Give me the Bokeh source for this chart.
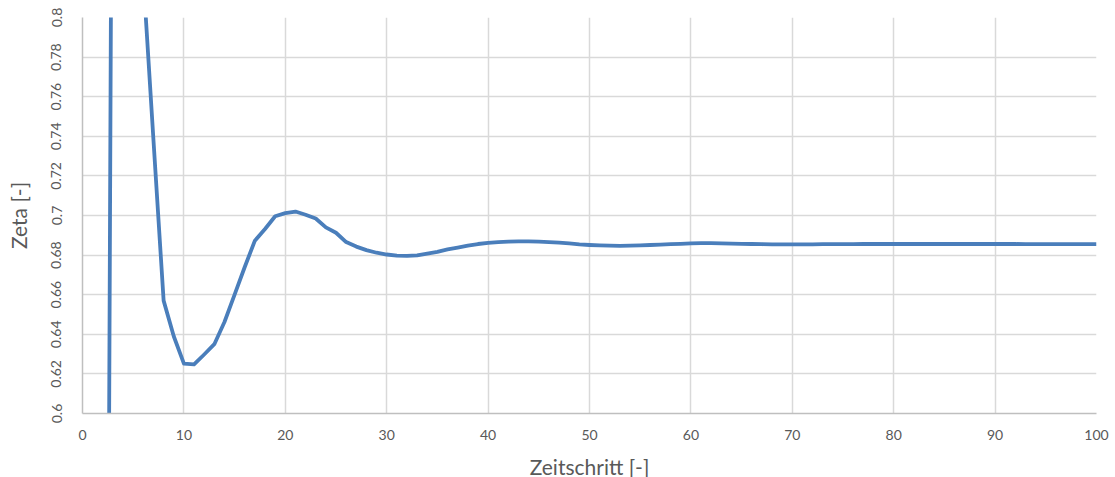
from bokeh.plotting import figure
from bokeh.models import Range1d, FixedTicker, CustomJSTickFormatter
from bokeh.embed import file_html
from bokeh.resources import INLINE

steps = list(range(2, 101))
zeta = [
    -0.143, 1.037, 1.12, 0.97, 0.82, 0.738, 0.657, 0.639, 0.6252, 0.6248,   # 2-11
    0.6298, 0.635, 0.6462, 0.660, 0.674, 0.6873, 0.6932, 0.6996, 0.7012, 0.702,  # 12-21
    0.7004, 0.6985, 0.694, 0.6913, 0.6866, 0.6843, 0.6825, 0.6812, 0.6803, 0.6797,  # 22-31
    0.6796, 0.6799, 0.6808, 0.6816, 0.6829, 0.6838, 0.6848, 0.6856, 0.6862, 0.6866,  # 32-41
    0.6868, 0.6869, 0.6869, 0.6868, 0.6866, 0.6863, 0.6859, 0.6854, 0.6851, 0.6849,  # 42-51
    0.6848, 0.6847, 0.6848, 0.6849, 0.6851, 0.6853, 0.6855, 0.6857, 0.6859, 0.6860,  # 52-61
    0.6860, 0.6859, 0.6858, 0.6857, 0.6856, 0.6855, 0.6854, 0.6854, 0.6854, 0.6854,  # 62-71
    0.6854, 0.6855, 0.6855, 0.6855, 0.6855, 0.6856, 0.6856, 0.6856, 0.6856, 0.6856,  # 72-81
    0.6856, 0.6856, 0.6856, 0.6856, 0.6856, 0.6856, 0.6856, 0.6856, 0.6856, 0.6856,  # 82-91
    0.6856, 0.6855, 0.6855, 0.6855, 0.6855, 0.6855, 0.6855, 0.6855, 0.6855,  # 92-100
]
x_ticks = list(range(0, 101, 10))
y_ticks = [0.6, 0.62, 0.64, 0.66, 0.68, 0.7, 0.72, 0.74, 0.76, 0.78, 0.8]

FONT = "Lato"
TXT = "#595959"

p = figure(frame_width=1014, frame_height=396, output_backend="svg", toolbar_location=None,
           x_range=Range1d(0, 100), y_range=Range1d(0.6, 0.8),
           min_border_left=82, min_border_top=17, min_border_right=15, min_border_bottom=55)
p.outline_line_color = None
p.background_fill_color = "white"
p.border_fill_color = "white"

p.line(steps, zeta, line_color="#4a7ebb", line_width=3.8, line_join="round")

for ax in (p.xaxis[0], p.yaxis[0]):
    ax.major_tick_line_color = None
    ax.minor_tick_line_color = None
    ax.axis_line_color = "#bfbfbf"
    ax.axis_line_width = 1.5
    ax.major_label_text_font = FONT
    ax.major_label_text_color = TXT
    ax.major_label_text_font_size = "14px"
    ax.axis_label_text_font = FONT
    ax.axis_label_text_color = TXT
    ax.axis_label_text_font_size = "21px"
    ax.axis_label_text_font_style = "normal"

p.xaxis.ticker = FixedTicker(ticks=x_ticks)
p.yaxis.ticker = FixedTicker(ticks=y_ticks)
p.yaxis.formatter = CustomJSTickFormatter(code="return String(Math.round(tick*100)/100);")
p.yaxis.major_label_orientation = "vertical"
p.xaxis.axis_label = "Zeitschritt [-]"
p.yaxis.axis_label = "Zeta [-]"
p.xaxis.major_label_standoff = 10
p.xaxis.axis_label_standoff = 11
p.yaxis.major_label_standoff = 15
p.yaxis.axis_label_standoff = 18

p.xgrid.ticker = FixedTicker(ticks=x_ticks)
p.ygrid.ticker = FixedTicker(ticks=y_ticks)
p.grid.grid_line_color = "#d9d9d9"
p.grid.grid_line_width = 1.5

open("out.html", "w").write(file_html(p, INLINE))
